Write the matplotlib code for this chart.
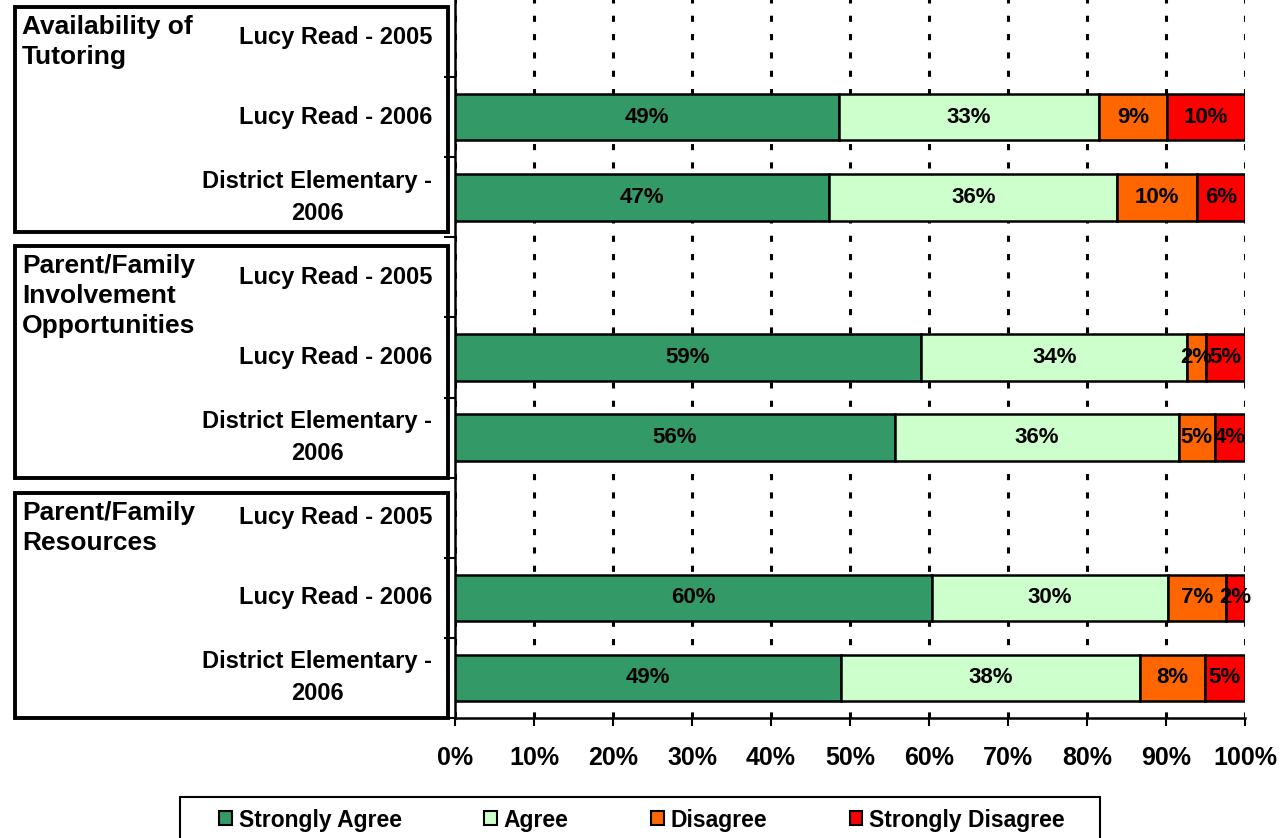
import matplotlib
matplotlib.use("Agg")
import matplotlib.pyplot as plt
from matplotlib.patches import Rectangle, Patch
import numpy as np

plt.rcParams['font.family'] = ['Liberation Sans', 'DejaVu Sans']
plt.rcParams['font.weight'] = 'bold'

# ---- data ----
row_labels = ["Lucy Read - 2005", "Lucy Read - 2006", "District Elementary -\n2006",
              "Lucy Read - 2005", "Lucy Read - 2006", "District Elementary -\n2006",
              "Lucy Read - 2005", "Lucy Read - 2006", "District Elementary -\n2006"]
group_labels = ["Availability of\nTutoring",
                "Parent/Family\nInvolvement\nOpportunities",
                "Parent/Family\nResources"]
series_names = ["Strongly Agree", "Agree", "Disagree", "Strongly Disagree"]
strongly_agree    = [np.nan, 48.6, 47.4, np.nan, 59.0, 55.7, np.nan, 60.4, 48.9]
agree             = [np.nan, 32.9, 36.4, np.nan, 33.7, 35.9, np.nan, 29.8, 37.8]
disagree          = [np.nan, 8.6, 10.1, np.nan, 2.4, 4.6, np.nan, 7.4, 8.2]
strongly_disagree = [np.nan, 9.9, 6.1, np.nan, 4.9, 3.8, np.nan, 2.4, 5.1]
x_ticks = [0, 10, 20, 30, 40, 50, 60, 70, 80, 90, 100]

colors = ["#339966", "#CCFFCC", "#FF6600", "#FF0000"]

W, H = 1287, 838
fig = plt.figure(figsize=(W / 100, H / 100), dpi=100)
ax = fig.add_axes([455 / W, 1 - 718 / H, (1245 - 455) / W, 721 / H])

series = [strongly_agree, agree, disagree, strongly_disagree]
y = np.arange(len(row_labels))
left = np.zeros(len(row_labels))
for vals, c, name in zip(series, colors, series_names):
    v = np.array(vals, dtype=float)
    m = ~np.isnan(v)
    ax.barh(y[m], v[m], left=left[m], height=0.58, color=c, edgecolor="black",
            linewidth=1.8, label=name, zorder=3)
    for i in np.where(m)[0]:
        ax.text(left[i] + v[i] / 2, y[i], f"{int(round(v[i]))}%", ha="center",
                va="center", fontsize=16, fontweight="bold", zorder=4)
    left = left + np.nan_to_num(v)

ax.set_xlim(0, 100)
ax.set_ylim(8.5, -0.5)
ax.set_xticks(x_ticks)
ax.set_xticklabels([f"{t}%" for t in x_ticks], fontsize=18, fontweight="bold")
ax.tick_params(axis="x", length=6, width=1.5, pad=14, direction="out")
ax.set_yticks(y)
ax.set_yticklabels(row_labels, fontsize=17, fontweight="bold", ma="center",
                   linespacing=1.5)
for lbl in ax.get_yticklabels():
    lbl.set_va("center")
ax.tick_params(axis="y", length=0, pad=16.5)
ax.set_yticks(np.arange(-0.5, 9.0, 1.0), minor=True)
ax.tick_params(axis="y", which="minor", length=8, width=1.5, direction="out")
for s in ["top", "right"]:
    ax.spines[s].set_visible(False)
for s in ["left", "bottom"]:
    ax.spines[s].set_linewidth(1.8)
ax.grid(axis="x", color="black", linestyle=(0, (2, 4)), linewidth=2.2, zorder=0)
ax.set_axisbelow(True)

# group boxes (pixel coords)
boxes = [(15, 7, 448, 232), (15, 246, 448, 478), (15, 493, 448, 718)]
for (x0, y0, x1, y1), g in zip(boxes, group_labels):
    fig.patches.append(Rectangle((x0 / W, 1 - y1 / H), (x1 - x0) / W, (y1 - y0) / H,
                                 transform=fig.transFigure, fill=False,
                                 edgecolor="black", linewidth=2.8))
    fig.text(22 / W, 1 - (y0 + 8) / H, g, ha="left", va="top", fontsize=19,
             fontweight="bold", linespacing=1.32)

# legend frame
fig.patches.append(Rectangle((180 / W, -0.01), (1100 - 180) / W, 0.01 + (838 - 797) / H,
                             transform=fig.transFigure, fill=False,
                             edgecolor="black", linewidth=1.5))
handles = [Patch(facecolor=c, edgecolor="black", linewidth=1.5) for c in colors]
leg = fig.legend(handles=handles, labels=series_names, loc="center",
                 bbox_to_anchor=(642 / W, 1 - 820 / H), ncol=4, frameon=False,
                 fontsize=16.5, handlelength=0.55, handleheight=0.55,
                 columnspacing=3.6, handletextpad=0.3, borderpad=0.0)
for t in leg.get_texts():
    t.set_fontweight("bold")

fig.savefig("out.png", dpi=100)
